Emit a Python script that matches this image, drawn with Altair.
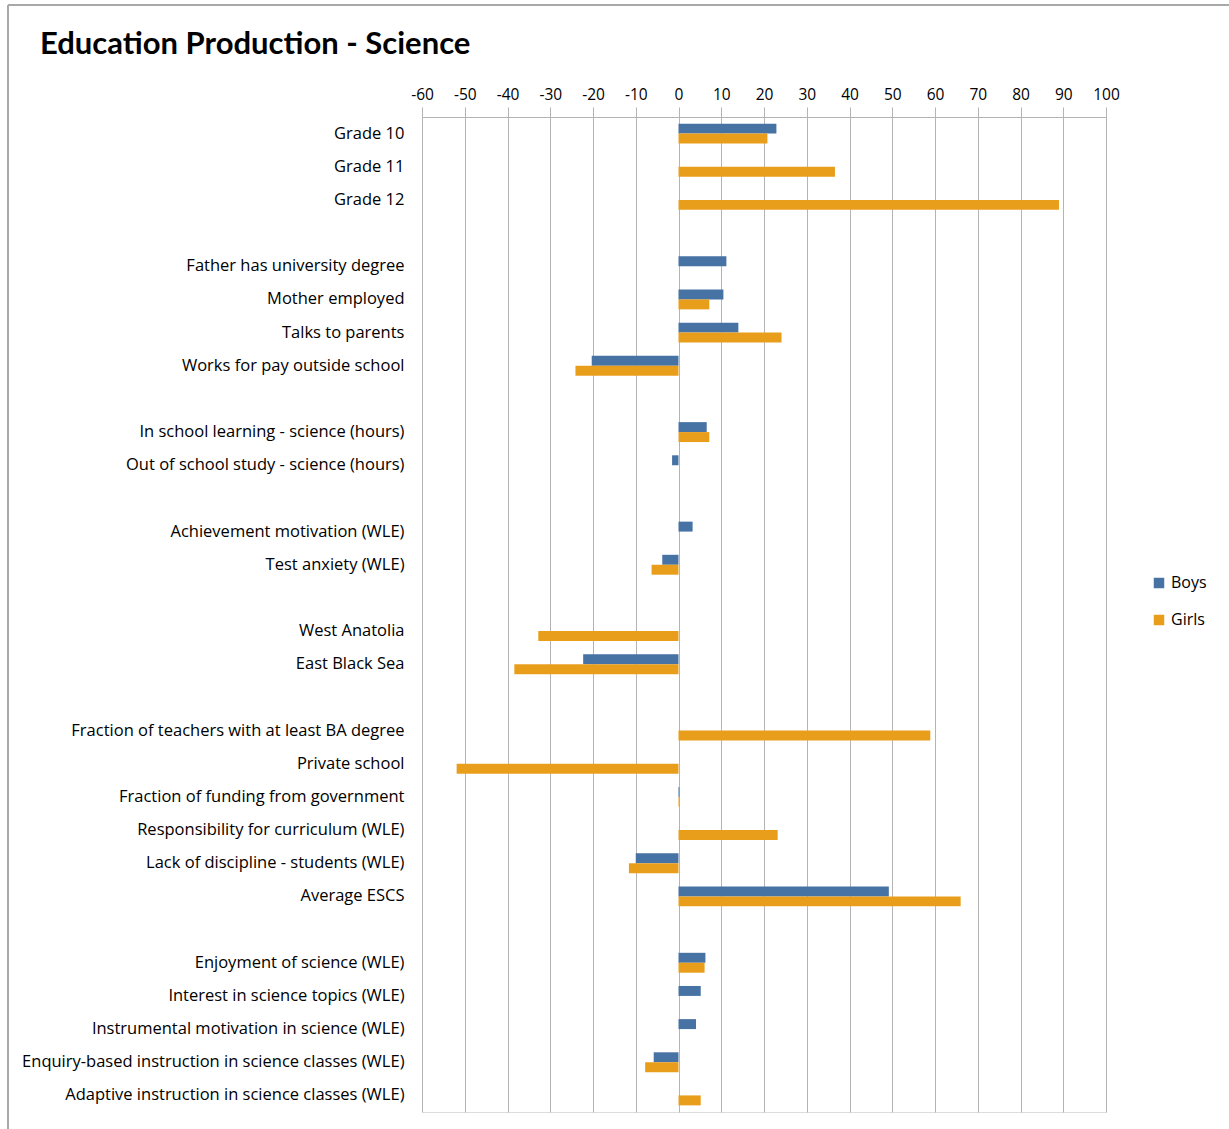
import altair as alt
import pandas as pd

categories = [
    "Grade 10", "Grade 11", "Grade 12", " ",
    "Father has university degree", "Mother employed", "Talks to parents", "Works for pay outside school", "  ",
    "In school learning - science (hours)", "Out of school study - science (hours)", "   ",
    "Achievement motivation (WLE)", "Test anxiety (WLE)", "    ",
    "West Anatolia", "East Black Sea", "     ",
    "Fraction of teachers with at least BA degree", "Private school", "Fraction of funding from government",
    "Responsibility for curriculum (WLE)", "Lack of discipline - students (WLE)", "Average ESCS", "      ",
    "Enjoyment of science (WLE)", "Interest in science topics (WLE)", "Instrumental motivation in science (WLE)",
    "Enquiry-based instruction in science classes (WLE)", "Adaptive instruction in science classes (WLE)",
]

boys = [
    22.9, None, None, None,
    11.2, 10.5, 14.0, -20.3, None,
    6.6, -1.5, None,
    3.3, -3.8, None,
    None, -22.3, None,
    None, None, 0.2, None, -10.0, 49.2, None,
    6.3, 5.2, 4.1, -5.8, None,
]
girls = [
    20.8, 36.6, 89.0, None,
    None, 7.2, 24.1, -24.1, None,
    7.2, None, None,
    None, -6.3, None,
    -32.8, -38.4, None,
    58.9, -51.9, 0.2, 23.2, -11.6, 66.0, None,
    6.1, None, None, -7.8, 5.2,
]

series = ["Boys", "Girls"]
colors = ["#4672A4", "#E99E1B"]
ticks = list(range(-60, 101, 10))

rows = []
for c, b, g in zip(categories, boys, girls):
    if b is not None:
        rows.append({"cat": c, "series": "Boys", "value": b})
    if g is not None:
        rows.append({"cat": c, "series": "Girls", "value": g})
df = pd.DataFrame(rows)

FONT = "Open Sans"

bars = alt.Chart(df).mark_bar().encode(
    x=alt.X("value:Q",
            scale=alt.Scale(domain=[-60, 100], nice=False, zero=False),
            axis=alt.Axis(orient="top", values=ticks, title=None, grid=True,
                          gridColor="#b4b4b4", gridWidth=1,
                          domainColor="#b4b4b4", tickColor="#b4b4b4", tickSize=10,
                          labelFont=FONT, labelFontSize=15.5, labelColor="#000000",
                          labelPadding=5, labelFlush=False,
                          labelExpr="'' + datum.value")),
    y=alt.Y("cat:N", scale=alt.Scale(domain=categories, paddingInner=0.4, paddingOuter=0.2),
            axis=alt.Axis(title=None, ticks=False, domain=False, grid=False,
                          labelFont=FONT, labelFontSize=16.5, labelColor="#000000",
                          labelPadding=18, labelLimit=500)),
    yOffset=alt.YOffset("series:N", scale=alt.Scale(domain=series)),
    color=alt.Color("series:N", scale=alt.Scale(domain=series, range=colors),
                    legend=alt.Legend(title=None, orient="none", legendX=729, legendY=458,
                                      symbolType="square", symbolSize=110,
                                      labelFont=FONT, labelFontSize=16, labelColor="#000000",
                                      rowPadding=21, symbolStrokeWidth=0)),
)

frame_left = alt.Chart(df).mark_rule(color="#a8a8a8", strokeWidth=1.5).encode(
    x=alt.value(-414), y=alt.value(-112), y2=alt.value(1012))
frame_top = alt.Chart(df).mark_rule(color="#a8a8a8", strokeWidth=1.5).encode(
    x=alt.value(-414), x2=alt.value(807), y=alt.value(-112))

chart = alt.layer(bars, frame_left, frame_top).properties(
    width=684,
    height=995,
    title=alt.TitleParams("Education Production - Science", anchor="start", frame="group",
                          dx=-382, dy=61, font="Lato", fontSize=31, fontWeight="bold",
                          color="#000000"),
    autosize=alt.AutoSizeParams(type="none"),
    padding={"left": 422, "top": 117, "right": 123, "bottom": 17},
).configure_view(stroke=None).configure(background="white")

chart.save("out.html", embed_options={"renderer": "svg", "actions": False})
